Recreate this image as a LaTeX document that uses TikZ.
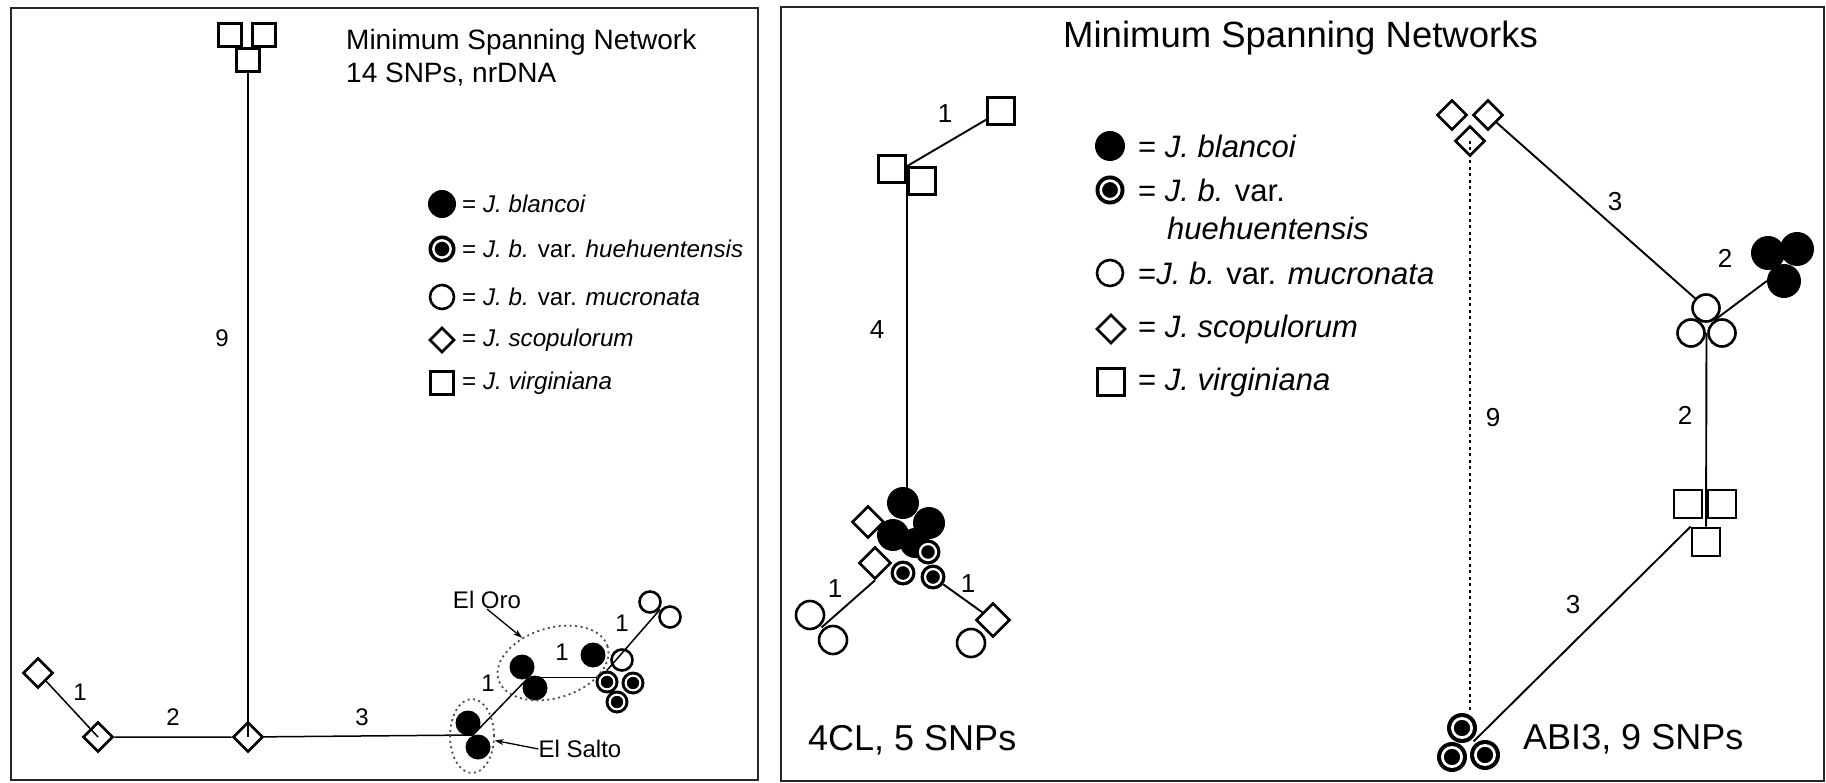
\documentclass[tikz,border=0pt]{standalone}
\usepackage{fontspec}
\setmainfont{Liberation Sans}
\usetikzlibrary{shapes.geometric,arrows.meta,calc,backgrounds}
\begin{document}
\begin{tikzpicture}[x=1pt,y=-1pt,
  sq/.style={draw, rectangle, line width=2.8pt, fill=white, inner sep=0pt, minimum size=#1},
  dia/.style={draw, diamond, line width=2.6pt, fill=white, inner sep=0pt, minimum width=#1, minimum height=#1},
  blk/.style={circle, fill=black, inner sep=0pt, minimum size=#1},
  opn/.style={circle, draw, line width=2.6pt, fill=white, inner sep=0pt, minimum size=#1},
  ring/.style={circle, fill=black, inner sep=0pt, minimum size=#1,
    path picture={\draw[white, line width=0.09*#1] (path picture bounding box.center) circle[radius=0.32*#1];}},
  ln/.style={line width=1.5pt},
  rln/.style={line width=1.9pt},
  dotln/.style={line width=2.4pt, dash pattern=on 3pt off 3.5pt},
  panel/.style={draw=black!85, line width=2pt},
  encl/.style={draw=black!70, line width=1.8pt, dash pattern=on 2pt off 3.5pt, ellipse, inner sep=0pt},
  arr/.style={-{Stealth[length=9pt,width=6pt]}, line width=1.3pt},
  lab/.style={font=\fontsize{24}{28}\selectfont, inner sep=0pt},
  rlab/.style={font=\fontsize{26}{30}\selectfont, inner sep=0pt},
  ttl/.style={font=\fontsize{28}{32}\selectfont, inner sep=0pt, anchor=west},
  rttl/.style={font=\fontsize{36.5}{40}\selectfont, inner sep=0pt, anchor=west},
  rsub/.style={font=\fontsize{36}{40}\selectfont, inner sep=0pt, anchor=west},
  leg/.style={font=\fontsize{24.2}{28}\selectfont, inner sep=0pt, anchor=west},
  rleg/.style={font=\fontsize{31}{36}\selectfont, inner sep=0pt, anchor=west}
]
\useasboundingbox (0,0) rectangle (1826,783);
\draw[panel] (11,8) rectangle (758,780);
\draw[panel] (781,7) rectangle (1824,781);

% ---------------- left panel ----------------
\node[ttl] (LT1) at (346,42) {Minimum Spanning Network};
\node[ttl] (LT2) at (346,75) {14 SNPs, nrDNA};

\node[sq=23pt] (LS1) at (230,35) {};
\node[sq=23pt] (LS2) at (264,35) {};
\node[sq=23pt] (LS3) at (248,60) {};

\node[dia=30pt] (TLd) at (38,673) {};
\node[dia=30pt] (D2d) at (98,737) {};
\node[dia=30pt] (Jd) at (248,737) {};

\node[blk=25pt] (SaltoA) at (468,723) {};
\node[blk=25pt] (SaltoB) at (478,747) {};
\node[blk=25pt] (OroC) at (522,667) {};
\node[blk=25pt] (OroD) at (535,688) {};
\node[blk=25pt] (OroE) at (593,655) {};
\node[opn=21pt] (Om) at (622,660) {};
\node[ring=23pt] (HF) at (607,682) {};
\node[ring=23pt] (HG) at (633,683) {};
\node[ring=23pt] (HH) at (617,702) {};
\node[opn=21pt] (Mu1) at (650,602) {};
\node[opn=21pt] (Mu2) at (670,617) {};

\coordinate (SaltoAB) at ($(SaltoA)!.5!(SaltoB)$);
\coordinate (OroCD) at ($(OroC)!.5!(OroD)$);
\coordinate (Mu12) at ($(Mu1)!.5!(Mu2)$);

\node[encl, minimum width=44pt, minimum height=74pt] (SaltoEll) at (472,736) {};
\node[encl, minimum width=114pt, minimum height=70pt, rotate=17] (OroEll) at (553,663) {};

\node[lab] (ElOro) at (487,600) {El Oro};
\node[lab] (ElSalto) at (580,749) {El Salto};
\draw[arr] (ElOro.south) -- (OroEll);
\draw[arr] (ElSalto.west) -- (SaltoEll);

\node[lab] (l9) at (222,338) {9};
\node[lab] (l1a) at (80,692) {1};
\node[lab] (l2) at (173,717) {2};
\node[lab] (l3) at (362,717) {3};
\node[lab] (l1b) at (488,683) {1};
\node[lab] (l1c) at (562,652) {1};
\node[lab] (l1d) at (622,623) {1};

\begin{pgfonlayer}{background}
\draw[ln] (D2d) -- (Jd) -- (SaltoAB);
\draw[ln] (SaltoAB) -- (OroCD);
\draw[ln] (OroCD) -- (OroCD -| HF);
\end{pgfonlayer}
\draw[ln] (LS3.south) -- (Jd.center);
\draw[ln] (TLd.south east) -- (D2d.center);
\draw[ln] (HF.north) -- (Mu12);

% left legend
\node[blk=28pt] (LgB) at (442,204) {};
\node[ring=27pt] (LgH) at (442,249) {};
\node[opn=24pt] (LgO) at (442,297) {};
\node[dia=25pt] (LgD) at (442,340) {};
\node[sq=23pt] (LgS) at (442,383) {};
\node[leg] (LgBt) at (462,204) {= \textit{J. blancoi}};
\node[leg] (LgHt) at (462,249) {= \textit{J. b.} var. \textit{huehuentensis}};
\node[leg] (LgOt) at (462,297) {= \textit{J. b.} var. \textit{mucronata}};
\node[leg] (LgDt) at (462,340) {= \textit{J. scopulorum}};
\node[leg] (LgSt) at (462,383) {= \textit{J. virginiana}};

% ---------------- right panel ----------------
\node[rttl] (RT) at (1063,38) {Minimum Spanning Networks};

% 4CL network
\node[sq=27pt] (Sq1) at (1001,111) {};
\node[sq=27pt] (Sq2) at (892,169) {};
\node[sq=27pt] (Sq3) at (922,181) {};

\node[dia=32pt] (Dc1) at (868,522) {};
\node[dia=32pt] (Dc2) at (875,563) {};
\node[blk=32pt] (B1) at (903,503) {};
\node[blk=32pt] (B2) at (929,523) {};
\node[blk=32pt] (B3) at (893,535) {};
\node[blk=30pt] (B4) at (915,543) {};
\node[ring=25pt] (H1) at (928,552) {};
\node[ring=25pt] (H2) at (903,573) {};
\node[ring=25pt] (H3) at (933,577) {};

\node[opn=28pt] (O1) at (810,615) {};
\node[opn=28pt] (O2) at (833,640) {};
\node[opn=28pt] (O3) at (971,643) {};
\node[dia=34pt] (D3) at (993,620) {};
\coordinate (O12) at ($(O1)!.5!(O2)$);

\node[rlab] (r1a) at (945,114) {1};
\node[rlab] (r4) at (877,330) {4};
\node[rlab] (r1b) at (835,589) {1};
\node[rlab] (r1c) at (968,584) {1};
\node[rsub] (CL) at (808,740) {4CL, 5 SNPs};

% ABI3 network
\node[dia=30pt] (Dl) at (1452,115) {};
\node[dia=30pt] (Dr) at (1488,115) {};
\node[dia=30pt] (Db) at (1470,141) {};

\node[opn=27pt] (Otop) at (1706,308) {};
\node[opn=27pt] (Oleft) at (1691,333) {};
\node[opn=27pt] (Oright) at (1722,333) {};
\node[blk=34pt] (BL) at (1768,253) {};
\node[blk=34pt] (BR) at (1797,249) {};
\node[blk=34pt] (BB) at (1784,281) {};

\node[sq=28pt] (SqL) at (1688,504) {};
\node[sq=28pt] (SqR) at (1722,504) {};
\node[sq=28pt] (SqB) at (1706,542) {};

\node[ring=30pt] (Rbl) at (1452,757) {};
\node[ring=30pt] (Rbr) at (1485,755) {};
\node[ring=30pt] (Rtop) at (1462,728) {};

\coordinate (OtR) at ($(Otop)!.5!(Oright)$);
\coordinate (OLR) at ($(Oleft)!.5!(Oright)$);
\coordinate (RtBr) at ($(Rtop)!.5!(Rbr)$);

\node[rlab] (r3a) at (1615,202) {3};
\node[rlab] (r2a) at (1725,258) {2};
\node[rlab] (r9) at (1493,418) {9};
\node[rlab] (r2b) at (1685,415) {2};
\node[rlab] (r3b) at (1573,605) {3};
\node[rsub] (AB) at (1523,739) {ABI3, 9 SNPs};

\begin{pgfonlayer}{background}
\draw[rln] (Sq3.north west) -- (Sq1);
\draw[rln] (Sq2.south east) -- (Sq2.south east |- B1);
\draw[rln] (Dc2.south) -- (O12);
\draw[rln] (H3) -- (D3);
\draw[rln] (Dr) -- (Otop);
\draw[rln] (OtR) -- (BB.west);
\draw[rln] (OLR) -- (SqB);
\draw[rln] (SqB.north west) -- (RtBr);
\end{pgfonlayer}
\draw[dotln] (Db.center) -- (Db.center |- Rtop.north);

% right legend
\node[blk=30pt] (RgB) at (1110,146) {};
\node[ring=29pt] (RgH) at (1110,190) {};
\node[opn=26pt] (RgO) at (1110,273) {};
\node[dia=29pt] (RgD) at (1111,329) {};
\node[sq=27pt] (RgS) at (1111,382) {};
\node[rleg] (RgBt) at (1138,146) {= \textit{J. blancoi}};
\node[rleg] (RgHt) at (1138,190) {= \textit{J. b.} var.};
\node[rleg] (RgHt2) at (1167,228) {\textit{huehuentensis}};
\node[rleg] (RgOt) at (1138,273) {=\textit{J. b.} var. \textit{mucronata}};
\node[rleg] (RgDt) at (1138,329) {= \textit{J. scopulorum}};
\node[rleg] (RgSt) at (1138,382) {= \textit{J. virginiana}};
\end{tikzpicture}
\end{document}
